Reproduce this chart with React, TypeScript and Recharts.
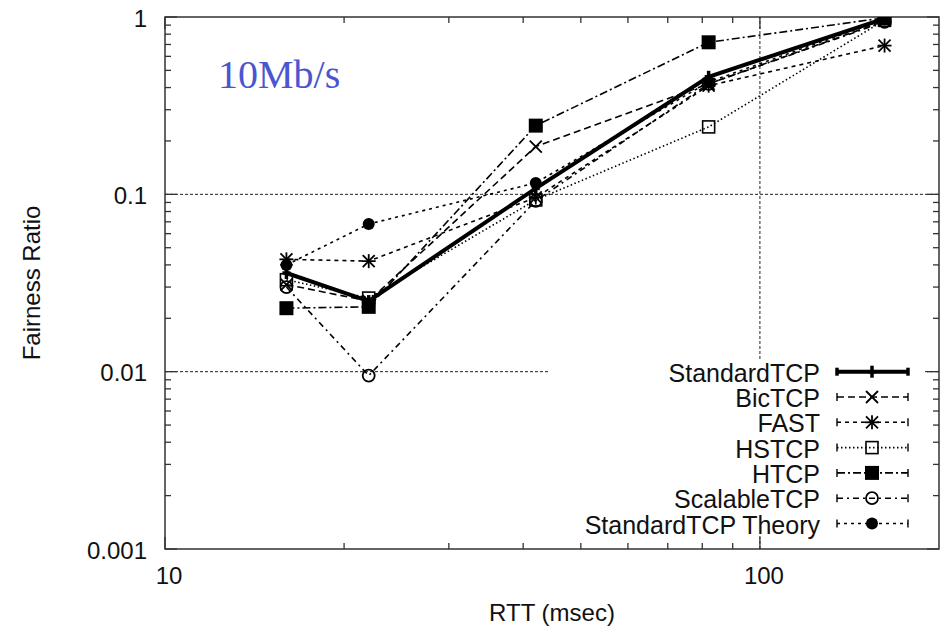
import React from "react";
import {
  LineChart,
  Line,
  XAxis,
  YAxis,
  ReferenceLine,
  ReferenceArea,
  Legend,
  Customized,
} from "recharts";

// RTT (msec) at which each protocol was measured
const rtt = [16, 22, 42, 82, 162];

// fairness ratio per protocol
const standardTcp = [0.036, 0.025, 0.108, 0.46, 0.98];
const bicTcp = [0.031, 0.025, 0.186, 0.42, 0.95];
const fastTcp = [0.043, 0.042, 0.096, 0.41, 0.69];
const hsTcp = [0.033, 0.026, 0.093, 0.24, 0.96];
const hTcp = [0.0228, 0.0232, 0.244, 0.72, 0.99];
const scalableTcp = [0.03, 0.0095, 0.092, 0.42, 0.94];
const standardTheory = [0.04, 0.068, 0.116, 0.43, 0.97];

const xTicks = [10, 20, 30, 40, 50, 60, 70, 80, 90, 100];
const xTickLabels: Record<string, string> = { "10": "10", "100": "100" };

const yTicks = [
  0.001, 0.002, 0.003, 0.004, 0.005, 0.006, 0.007, 0.008, 0.009,
  0.01, 0.02, 0.03, 0.04, 0.05, 0.06, 0.07, 0.08, 0.09,
  0.1, 0.2, 0.3, 0.4, 0.5, 0.6, 0.7, 0.8, 0.9, 1,
];
const yTickLabels: Record<string, string> = {
  "0.001": "0.001",
  "0.01": "0.01",
  "0.1": "0.1",
  "1": "1",
};

const data = rtt.map((r, i) => ({
  rtt: r,
  standard: standardTcp[i],
  bic: bicTcp[i],
  fast: fastTcp[i],
  hs: hsTcp[i],
  h: hTcp[i],
  scalable: scalableTcp[i],
  theory: standardTheory[i],
}));

const series = [
  { key: "standard", name: "StandardTCP", dash: undefined, width: 4, marker: "plus" },
  { key: "bic", name: "BicTCP", dash: "7 4", width: 1.6, marker: "cross" },
  { key: "fast", name: "FAST", dash: "4 4", width: 1.6, marker: "star" },
  { key: "hs", name: "HSTCP", dash: "1.5 2.5", width: 1.6, marker: "openSquare" },
  { key: "h", name: "HTCP", dash: "8 3 2 3", width: 1.6, marker: "filledSquare" },
  { key: "scalable", name: "ScalableTCP", dash: "6 4 2 4", width: 1.6, marker: "openCircle" },
  { key: "theory", name: "StandardTCP Theory", dash: "3 4", width: 1.6, marker: "filledCircle" },
];

const PLOT_W = 774;
const PLOT_H = 532;
const FONT = '"Liberation Sans", Arial, Helvetica, sans-serif';
const AXIS = "#333";

function Marker({ kind, cx, cy }: { kind: string; cx: number; cy: number }) {
  if (cx == null || cy == null) return null;
  switch (kind) {
    case "plus":
      return (
        <g stroke="#000" strokeWidth={3.5}>
          <line x1={cx - 4} y1={cy} x2={cx + 4} y2={cy} />
          <line x1={cx} y1={cy - 6} x2={cx} y2={cy + 6} />
        </g>
      );
    case "cross":
      return (
        <g stroke="#000" strokeWidth={1.8}>
          <line x1={cx - 6} y1={cy - 6} x2={cx + 6} y2={cy + 6} />
          <line x1={cx - 6} y1={cy + 6} x2={cx + 6} y2={cy - 6} />
        </g>
      );
    case "star":
      return (
        <g stroke="#000" strokeWidth={1.8}>
          <line x1={cx - 6} y1={cy - 6} x2={cx + 6} y2={cy + 6} />
          <line x1={cx - 6} y1={cy + 6} x2={cx + 6} y2={cy - 6} />
          <line x1={cx} y1={cy - 7} x2={cx} y2={cy + 7} />
          <line x1={cx - 7} y1={cy} x2={cx + 7} y2={cy} />
        </g>
      );
    case "openSquare":
      return <rect x={cx - 6} y={cy - 6} width={12} height={12} fill="none" stroke="#000" strokeWidth={1.6} />;
    case "filledSquare":
      return <rect x={cx - 7} y={cy - 7} width={14} height={14} fill="#000" />;
    case "openCircle":
      return <circle cx={cx} cy={cy} r={6} fill="none" stroke="#000" strokeWidth={1.8} />;
    case "filledCircle":
      return <circle cx={cx} cy={cy} r={6} fill="#000" />;
    default:
      return null;
  }
}

function XTick(props: any) {
  const { x, y, payload } = props;
  const label = xTickLabels[String(payload.value)];
  const len = label ? 12 : 6;
  return (
    <g>
      <line x1={x} y1={y} x2={x} y2={y - len} stroke={AXIS} strokeWidth={1.3} />
      <line x1={x} y1={y - PLOT_H} x2={x} y2={y - PLOT_H + len} stroke={AXIS} strokeWidth={1.3} />
      {label && (
        <text x={x + 4} y={y + 26} textAnchor="middle" dominantBaseline="central" fontFamily={FONT} fontSize={24} fill="#111">
          {label}
        </text>
      )}
    </g>
  );
}

function YTick(props: any) {
  const { x, y, payload } = props;
  const label = yTickLabels[String(payload.value)];
  const len = label ? 12 : 6;
  return (
    <g>
      <line x1={x} y1={y} x2={x + len} y2={y} stroke={AXIS} strokeWidth={1.3} />
      <line x1={x + PLOT_W} y1={y} x2={x + PLOT_W - len} y2={y} stroke={AXIS} strokeWidth={1.3} />
      {label && (
        <text x={x - 18} y={y + 1} textAnchor="end" dominantBaseline="central" fontFamily={FONT} fontSize={24} fill="#111">
          {label}
        </text>
      )}
    </g>
  );
}

function LegendBox() {
  return (
    <svg width={375} height={184} style={{ display: "block", overflow: "visible" }}>
      {series.map((s, i) => {
        const cy = 11.7 + i * 25.3;
        const capW = s.key === "standard" ? 3.5 : 1.4;
        return (
          <g key={s.key}>
            <text x={272} y={cy + 1} textAnchor="end" dominantBaseline="central" fontFamily={FONT} fontSize={25} fill="#111">
              {s.name}
            </text>
            <line x1={289} y1={cy} x2={360} y2={cy} stroke="#000" strokeWidth={s.width} strokeDasharray={s.dash} />
            <line x1={289} y1={cy - 4} x2={289} y2={cy + 4} stroke="#000" strokeWidth={capW} />
            <line x1={360} y1={cy - 4} x2={360} y2={cy + 4} stroke="#000" strokeWidth={capW} />
            <Marker kind={s.marker} cx={324} cy={cy} />
          </g>
        );
      })}
    </svg>
  );
}

function Labels() {
  return (
    <g fontFamily={FONT} fill="#111">
      <text x={218} y={88} fontFamily='"Liberation Serif", "Times New Roman", serif' fontSize={40} fill="#4a55d0">
        10Mb/s
      </text>
      <text x={552} y={612} textAnchor="middle" dominantBaseline="central" fontSize={24}>
        RTT (msec)
      </text>
      <text x={31} y={283} textAnchor="middle" dominantBaseline="central" fontSize={24} transform="rotate(-90 31 283)">
        Fairness Ratio
      </text>
    </g>
  );
}

export default function App() {
  return (
    <div style={{ position: "absolute", left: 0, top: 0, width: 940, height: 631, background: "#fff" }}>
      <LineChart width={940} height={631} data={data} margin={{ top: 17, right: 1, bottom: 0, left: 0 }}>
        <XAxis
          dataKey="rtt"
          type="number"
          scale="log"
          domain={[10, 200]}
          ticks={xTicks}
          interval={0}
          tickSize={0}
          tickMargin={0}
          axisLine={false}
          tick={<XTick />}
          height={82}
          allowDataOverflow
        />
        <YAxis
          type="number"
          scale="log"
          domain={[0.001, 1]}
          ticks={yTicks}
          interval={0}
          tickSize={0}
          tickMargin={0}
          axisLine={false}
          tick={<YTick />}
          width={165}
          allowDataOverflow
        />
        <ReferenceLine y={0.1} stroke="#222" strokeWidth={1} strokeDasharray="3 2" />
        <ReferenceLine y={0.01} stroke="#222" strokeWidth={1} strokeDasharray="3 2" />
        <ReferenceLine x={100} stroke="#222" strokeWidth={1} strokeDasharray="3 2" />
        <ReferenceArea x1={10} x2={200} y1={0.001} y2={1} fill="none" stroke={AXIS} strokeWidth={1.5} />
        {series.map((s) => (
          <Line
            key={s.key}
            dataKey={s.key}
            name={s.name}
            type="linear"
            stroke="#000"
            strokeWidth={s.width}
            strokeDasharray={s.dash}
            isAnimationActive={false}
            dot={(p: any) => <Marker key={`${s.key}-${p.index}`} kind={s.marker} cx={p.cx} cy={p.cy} />}
            activeDot={false}
          />
        ))}
        <Legend
          layout="horizontal"
          verticalAlign="middle"
          align="center"
          wrapperStyle={{ left: 548, top: 360, width: 375, height: 176, background: "#fff" }}
          content={() => <LegendBox />}
        />
        <Customized component={Labels} />
      </LineChart>
    </div>
  );
}
